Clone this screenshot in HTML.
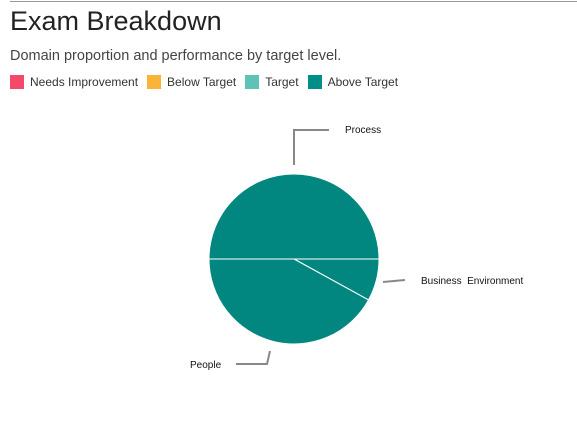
<!DOCTYPE html>
<html><head><meta charset="utf-8"><style>
body{margin:0;width:577px;height:425px;background:#fff;font-family:"Liberation Sans",sans-serif;overflow:hidden;position:relative}
.rule{position:absolute;left:10px;top:1px;width:567px;height:1px;background:#999}
h1{position:absolute;left:10px;top:6px;margin:0;font-size:27px;font-weight:normal;color:#222}
.sub{position:absolute;left:10px;top:48px;font-size:14.5px;color:#444}
.legend{position:absolute;left:10px;top:75px;display:flex;font-size:12px;color:#333}
.li{display:flex;align-items:center;margin-right:9px}
.sw{width:14px;height:14px;margin-right:6px}
svg{position:absolute;left:0;top:0}
</style></head><body>
<div class="rule"></div>
<h1>Exam Breakdown</h1>
<div class="sub">Domain proportion and performance by target level.</div>
<div class="legend">
<div class="li"><div class="sw" style="background:#f5496c"></div>Needs Improvement</div>
<div class="li"><div class="sw" style="background:#fbb43a"></div>Below Target</div>
<div class="li"><div class="sw" style="background:#5dc4b5"></div>Target</div>
<div class="li"><div class="sw" style="background:#008f88"></div>Above Target</div>
</div>
<svg id="chart" width="577" height="425"></svg>
<script>
const categories=["Process","Business  Environment","People"];
const values=[50,8,42];
const labelPos=[[345,133],[421,284],[190,368]];
const leader=[[[294,165],[294,130],[329,130]],[[383,282],[405,280]],[[270,351],[267,364],[236,364]]];
const svg=document.getElementById('chart');
const NS="http://www.w3.org/2000/svg";
const cx=294,cy=259,r=85;
const total=values.reduce((a,b)=>a+b,0);
let a=Math.PI;
values.forEach((v,i)=>{
  const a2=a+v/total*2*Math.PI;
  const x1=cx+r*Math.cos(a),y1=cy+r*Math.sin(a),x2=cx+r*Math.cos(a2),y2=cy+r*Math.sin(a2);
  const large=(a2-a)>Math.PI?1:0;
  const p=document.createElementNS(NS,'path');
  p.setAttribute('d',`M${cx},${cy}L${x1},${y1}A${r},${r} 0 ${large} 1 ${x2},${y2}Z`);
  p.setAttribute('fill','#01877f');p.setAttribute('stroke','#fff');p.setAttribute('stroke-width','1');
  
  
  svg.appendChild(p);
  a=a2;
});
categories.forEach((c,i)=>{
  const l=document.createElementNS(NS,'polyline');
  l.setAttribute('points',leader[i].map(p=>p.join(',')).join(' '));
  l.setAttribute('fill','none');l.setAttribute('stroke','#888');l.setAttribute('stroke-width','2');
  
  
  svg.appendChild(l);
  const t=document.createElementNS(NS,'text');
  t.setAttribute('x',labelPos[i][0]);t.setAttribute('y',labelPos[i][1]);
  t.setAttribute('font-size','10');t.setAttribute('fill','#111');
  t.setAttribute('style','white-space:pre');
  t.textContent=c;
  
  
  svg.appendChild(t);
});
</script>
</body></html>
